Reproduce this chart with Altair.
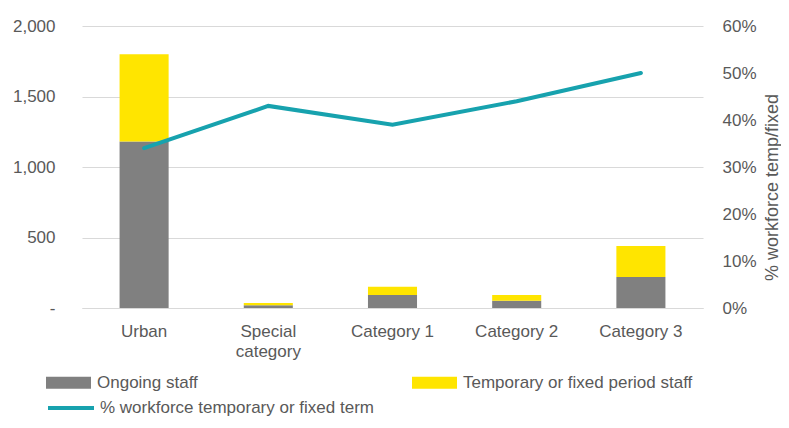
import altair as alt
import pandas as pd

categories = ["Urban", "Special category", "Category 1", "Category 2", "Category 3"]
ongoing = [1180, 20, 92, 52, 220]
temporary = [620, 15, 58, 41, 220]
pct_temp = [0.34, 0.43, 0.39, 0.44, 0.50]
series_names = ["Ongoing staff", "Temporary or fixed period staff"]
series_colors = ["#808080", "#FFE500"]
line_name = "% workforce temporary or fixed term"
line_color = "#17A2AE"
left_ticks = [0, 500, 1000, 1500, 2000]
right_ticks = [0, 0.1, 0.2, 0.3, 0.4, 0.5, 0.6]

FONT = "Liberation Sans"
TXT_COLOR = "#595959"

rows = []
for c, o, t in zip(categories, ongoing, temporary):
    rows.append({"category": c, "series": series_names[0], "value": o, "ord": 0})
    rows.append({"category": c, "series": series_names[1], "value": t, "ord": 1})
bar_df = pd.DataFrame(rows)
line_df = pd.DataFrame({"category": categories, "pct": pct_temp, "series": line_name})

x_enc = alt.X(
    "category:N",
    sort=categories,
    scale=alt.Scale(paddingInner=0.605, paddingOuter=0.3025),
    axis=alt.Axis(
        title=None, labelAngle=0, ticks=False, domain=True, domainColor="#D9D9D9",
        labelPadding=15, labelFont=FONT, labelFontSize=17, labelColor=TXT_COLOR,
        labelExpr="datum.value == 'Special category' ? ['Special', 'category'] : datum.value",
        labelLineHeight=20,
    ),
)

bars = alt.Chart(bar_df).mark_bar().encode(
    x=x_enc,
    y=alt.Y(
        "value:Q",
        stack="zero",
        scale=alt.Scale(domain=[0, 2000], nice=False),
        axis=alt.Axis(
            values=left_ticks, title=None, ticks=False, domain=False,
            gridColor="#D9D9D9", gridWidth=1, labelPadding=27,
            labelFont=FONT, labelFontSize=17, labelColor=TXT_COLOR,
            labelExpr="datum.value == 0 ? '-\u00a0\u00a0' : format(datum.value, ',')",
        ),
    ),
    color=alt.Color(
        "series:N",
        scale=alt.Scale(domain=series_names, range=series_colors),
        legend=alt.Legend(
            title=None, orient="none", legendX=-36, legendY=334, direction="horizontal",
            columns=2, columnPadding=214, padding=0,
            symbolType="M-1,-0.267H1V0.267H-1Z", symbolSize=2025, symbolStrokeWidth=0,
            labelFont=FONT, labelFontSize=17, labelColor=TXT_COLOR, labelOffset=6,
            labelLimit=400,
        ),
    ),
    order=alt.Order("ord:Q", sort="ascending"),
)

line = alt.Chart(line_df).mark_line(strokeWidth=4, strokeCap="round").encode(
    x=alt.X("category:N", sort=categories),
    y=alt.Y(
        "pct:Q",
        scale=alt.Scale(domain=[0, 0.6], nice=False),
        axis=alt.Axis(
            orient="right", values=right_ticks, format=".0%", grid=False, ticks=False,
            domain=False, labelPadding=19, labelFont=FONT, labelFontSize=17,
            labelColor=TXT_COLOR, title="% workforce temp/fixed", titleAngle=270,
            titleBaseline="top", titleY=161,
            titleFont=FONT, titleFontSize=18, titleFontWeight="normal",
            titleColor=TXT_COLOR, titlePadding=7,
        ),
    ),
    stroke=alt.Stroke(
        "series:N",
        scale=alt.Scale(domain=[line_name], range=[line_color]),
        legend=alt.Legend(
            title=None, orient="none", legendX=-36, legendY=357, padding=0,
            symbolType="stroke", symbolSize=2116, symbolStrokeWidth=4,
            labelFont=FONT, labelFontSize=17, labelColor=TXT_COLOR, labelOffset=4,
            labelLimit=400,
        ),
    ),
)

chart = (
    alt.layer(bars, line)
    .resolve_scale(y="independent", color="independent")
    .properties(
        width=621, height=282, autosize="none",
        padding={"left": 74, "top": 18, "right": 78, "bottom": 112},
    )
    .configure_view(stroke=None)
)

chart.save("out.html", embed_options={"renderer": "svg", "actions": False})
